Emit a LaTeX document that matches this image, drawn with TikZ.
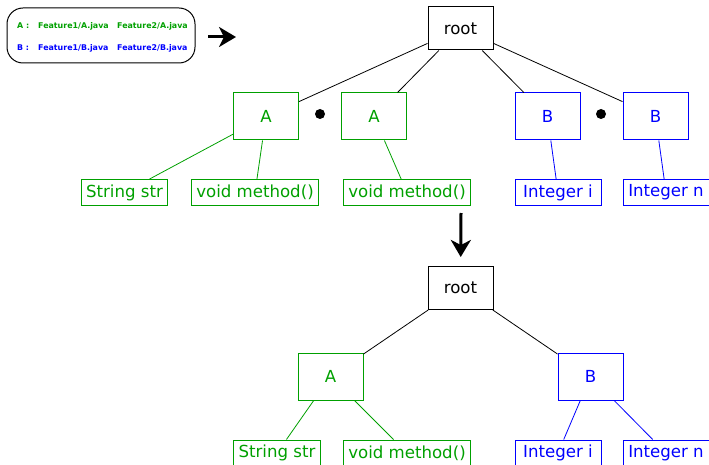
\documentclass[tikz,border=0pt]{standalone}
\usepackage{fontspec}
\setmainfont{DejaVu Sans}
\usetikzlibrary{arrows.meta}
\definecolor{featA}{RGB}{0,160,0}
\definecolor{featB}{RGB}{0,0,255}
\tikzset{
	cls/.style={draw, line width=1pt, inner sep=0pt, minimum width=65pt, minimum height=47pt, font=\fontsize{16.6}{20}\selectfont},
	rootbox/.style={cls, minimum height=43pt},
	member/.style={draw, line width=1pt, inner xsep=5pt, inner ysep=0pt, minimum width=86pt, minimum height=26pt, font=\fontsize{16.6}{20}\selectfont},
	edge/.style={line width=0.8pt},
	dot/.style={circle, fill=black, inner sep=0pt, minimum size=10pt},
	bigarrow/.style={line width=3pt, -{Stealth[length=17pt, width=20pt, inset=5pt]}},
	legendbox/.style={draw, line width=1pt, rounded corners=16pt, minimum width=188pt, minimum height=55pt, inner sep=0pt},
	legtext/.style={anchor=west, inner sep=0pt, font=\fontsize{7.9}{9}\bfseries}
}

\begin{document}
\begin{tikzpicture}[x=1pt, y=-1pt]
			\useasboundingbox (0,0) rectangle (709,465);
			
			%%%%% LEGEND %%%%%
			
			\node[legendbox] (legend) at (101,35.5) {};
			\node[legtext, featA] (keyA) at (17,26) {A :};
			\node[legtext, featA] (fA1) at (38,26) {Feature1/A.java};
			\node[legtext, featA] (fA2) at (117,26) {Feature2/A.java};
			\node[legtext, featB] (keyB) at (17,48) {B :};
			\node[legtext, featB] (fB1) at (38,48) {Feature1/B.java};
			\node[legtext, featB] (fB2) at (117,48) {Feature2/B.java};
			\coordinate (lfrom) at (208,37);
			\coordinate (lto) at (236,37);
			\draw[bigarrow] (lfrom) -- (lto);
			
			%%%%% BEFORE %%%%%
			
			\node[rootbox] (root) at (460.5,28.5) {root};
			
			\node[cls, featA] (a1) at (266,116.5) {A};
			\node[dot] (dotA) at (320,114) {};
			\node[cls, featA] (a2) at (374,116.5) {A};
			\node[cls, featB] (b1) at (547.5,116.5) {B};
			\node[dot] (dotB) at (601,114) {};
			\node[cls, featB] (b2) at (655.5,116.5) {B};
			
			\node[member, featA] (str1) at (124.5,192.5) {String str};
			\node[member, featA] (meth1) at (255,192.5) {void method()};
			\node[member, featA] (meth2) at (407,192.5) {void method()};
			\node[member, featB] (int1) at (558,192.5) {Integer i};
			\node[member, featB] (intn1) at (666,192.5) {Integer n};
			
			\draw[edge] (root) -- (a1);
			\draw[edge] (root) -- (a2);
			\draw[edge] (root) -- (b1);
			\draw[edge] (root) -- (b2);
			\draw[edge, featA] (a1) -- (str1);
			\draw[edge, featA] (a1) -- (meth1);
			\draw[edge, featA] (a2) -- (meth2);
			\draw[edge, featB] (b1) -- (int1);
			\draw[edge, featB] (b2) -- (intn1);
			
			%%%%% AFTER %%%%%
			
			\node[rootbox] (root2) at (460.5,288) {root};
			\coordinate (dfrom) at (461,213);
			\draw[bigarrow, shorten >=9pt] (dfrom) -- (root2);
			
			\node[cls, featA] (a3) at (330.5,376.5) {A};
			\node[cls, featB] (b3) at (590.5,376.5) {B};
			
			\node[member, featA] (str3) at (277,453) {String str};
			\node[member, featA] (meth3) at (407,453) {void method()};
			\node[member, featB] (int3) at (558,453) {Integer i};
			\node[member, featB] (intn3) at (666,453) {Integer n};
			
			\draw[edge] (root2) -- (a3);
			\draw[edge] (root2) -- (b3);
			\draw[edge, featA] (a3) -- (str3);
			\draw[edge, featA] (a3) -- (meth3);
			\draw[edge, featB] (b3) -- (int3);
			\draw[edge, featB] (b3) -- (intn3);
			
			%%%%% END %%%%%
\end{tikzpicture}
\end{document}
